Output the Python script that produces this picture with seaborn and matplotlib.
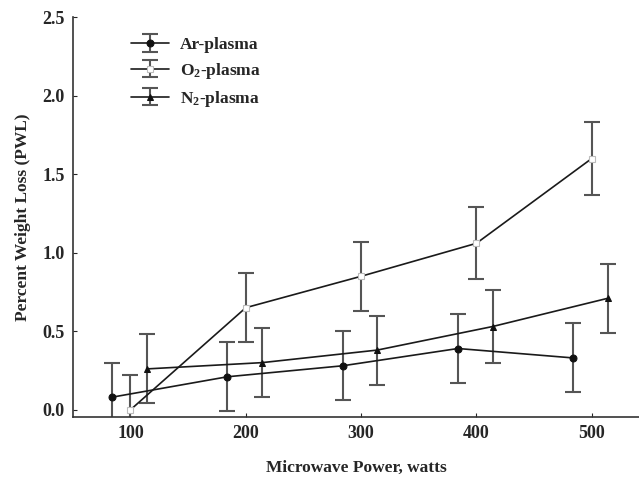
import numpy as np
import pandas as pd
import matplotlib
matplotlib.use("Agg")
import matplotlib.pyplot as plt
import seaborn as sns
from matplotlib.legend_handler import HandlerTuple

power = [100, 200, 300, 400, 500]
ar_pwl = [0.08, 0.21, 0.28, 0.39, 0.33]
ar_err = [0.22, 0.22, 0.22, 0.22, 0.22]
o2_pwl = [0.00, 0.65, 0.85, 1.06, 1.60]
o2_err = [0.22, 0.22, 0.22, 0.23, 0.23]
n2_pwl = [0.26, 0.30, 0.38, 0.53, 0.71]
n2_err = [0.22, 0.22, 0.22, 0.23, 0.22]
labels = ["Ar-plasma", "O$_2$-plasma", "N$_2$-plasma"]

sns.set_style("ticks")
plt.rcParams['font.family'] = ['Liberation Serif', 'DejaVu Serif']
plt.rcParams['mathtext.fontset'] = 'custom'
plt.rcParams['mathtext.rm'] = 'Liberation Serif:bold'
plt.rcParams['mathtext.it'] = 'Liberation Serif:bold'

fig = plt.figure(figsize=(6.39, 4.78), dpi=100)
ax = fig.add_axes([0.114, 0.128, 0.886, 0.836])

series = [
    (ar_pwl, ar_err, -16, dict(marker='o', markersize=5, markerfacecolor='#111111', markeredgecolor='#111111')),
    (o2_pwl, o2_err, 0, dict(marker='s', markersize=5, markerfacecolor='white', markeredgecolor='#bbbbbb', markeredgewidth=0.8)),
    (n2_pwl, n2_err, 14, dict(marker='^', markersize=5, markerfacecolor='#111111', markeredgecolor='#111111')),
]

handles = []
for (vals, errs, shift, mk), lab in zip(series, labels):
    xs = np.array(power) + shift
    df = pd.DataFrame({'power': xs, 'pwl': vals})
    eb = ax.errorbar(xs, vals, yerr=errs, fmt='none', ecolor='#555555',
                     elinewidth=1.5, capsize=6, capthick=1.5, zorder=2)
    sns.lineplot(data=df, x='power', y='pwl', ax=ax, color='#1a1a1a',
                 linewidth=1.2, zorder=3, legend=False, **mk)
    handles.append((eb, ax.lines[-1]))

ax.set_xlim(50, 541)
ax.set_ylim(-0.045, 2.5)
ax.set_xticks(power)
ax.set_yticks([0.0, 0.5, 1.0, 1.5, 2.0, 2.5])
ax.set_yticklabels(['0.0', '0.5', '1.0', '1.5', '2.0', '2.5'])
ax.tick_params(direction='in', length=3, width=0.8, labelsize=13, pad=6)
for t in ax.get_xticklabels() + ax.get_yticklabels():
    t.set_fontweight('bold')

sns.despine(ax=ax, top=True, right=True)
for s in ['left', 'bottom']:
    ax.spines[s].set_color('#333333')
    ax.spines[s].set_linewidth(1.2)

ax.set_xlabel('Microwave Power, watts', fontsize=12.5, fontweight='bold', labelpad=13)
ax.set_ylabel('Percent Weight Loss (PWL)', fontsize=12.5, fontweight='bold', labelpad=8)

leg = ax.legend(handles, labels, loc='upper left', bbox_to_anchor=(0.075, 0.99),
                frameon=False, handler_map={tuple: HandlerTuple(ndivide=1)},
                prop={'family': 'Liberation Serif', 'weight': 'bold', 'size': 12.5},
                handlelength=2.2, labelspacing=0.45, handletextpad=0.6)

fig.savefig('out.png', dpi=100)
